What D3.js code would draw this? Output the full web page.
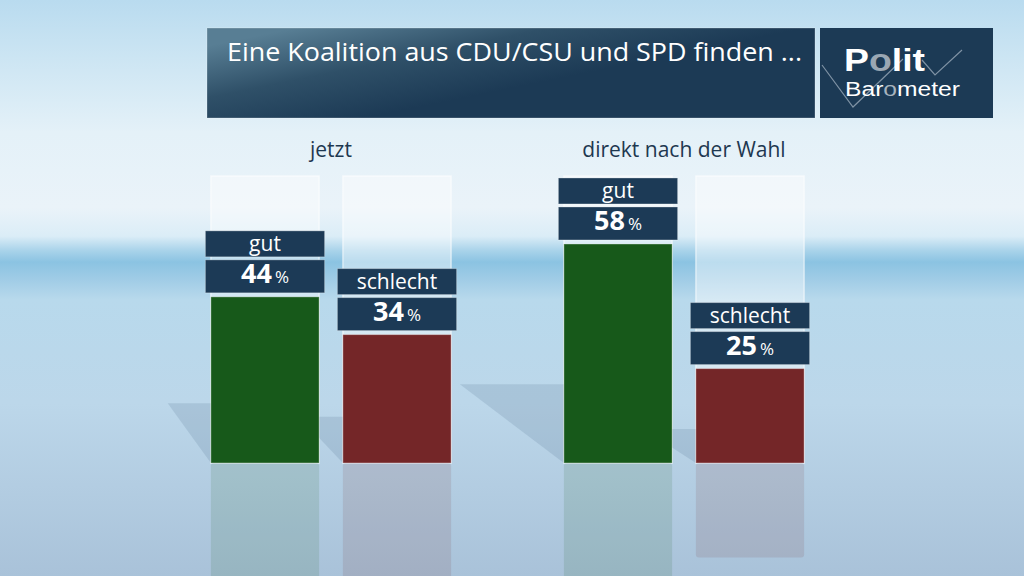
<!DOCTYPE html>
<html><head><meta charset="utf-8">
<script src="https://cdn.jsdelivr.net/npm/d3@7"></script>
<style>html,body{margin:0;padding:0;overflow:hidden;background:#cfe3f0}</style>
</head><body><svg id="c" width="1024" height="576"></svg>
<script>
const title = "Eine Koalition aus CDU/CSU und SPD finden ...";
const groups = ["jetzt", "direkt nach der Wahl"];
const categories = ["gut", "schlecht"];
const valuesJetzt = [44, 34];
const valuesNachWahl = [58, 25];
const seriesValues = [valuesJetzt, valuesNachWahl];
const scaleMax = 76;

const data = [];
groups.forEach((g, gi) => categories.forEach((c, ci) => data.push({group: g, cat: c, value: seriesValues[gi][ci]})));

const W = 1024, H = 576;
const svg = d3.select("#c");
const defs = svg.append("defs");
const FONT = "'Open Sans', 'Noto Sans', sans-serif";

// background gradient
const bg = defs.append("linearGradient").attr("id", "bg").attr("x1", 0).attr("y1", 0).attr("x2", 0).attr("y2", 1);
[[0, "#b9dbef"], [0.1, "#cce5f3"], [0.23, "#e4f1f8"], [0.36, "#eaf3f9"], [0.41, "#dbedf7"], [0.435, "#a9d3ea"],
 [0.455, "#8bc3e2"], [0.485, "#a0cce6"], [0.52, "#b8d9ec"], [0.7, "#bcd7ea"], [1, "#a9c2d9"]]
  .forEach(([o, c]) => bg.append("stop").attr("offset", o).attr("stop-color", c));
svg.append("rect").attr("width", W).attr("height", H).attr("fill", "url(#bg)");

// title box gradient
const tg = defs.append("linearGradient").attr("id", "tg").attr("x1", 0).attr("y1", 0.2).attr("x2", 0.55).attr("y2", 0.6);
[[0, "#587e94"], [0.5, "#2f5068"], [1, "#1c3a55"]].forEach(([o, c]) => tg.append("stop").attr("offset", o).attr("stop-color", c));

svg.append("rect").attr("x", 207).attr("y", 28).attr("width", 608).attr("height", 90).attr("fill", "url(#tg)")
  .attr("stroke", "rgba(255,255,255,0.25)").attr("stroke-width", 1);
svg.append("text").attr("x", 227).attr("y", 61).attr("fill", "#fff").attr("font-family", FONT)
  .attr("font-size", 25).attr("textLength", 575).attr("lengthAdjust", "spacingAndGlyphs").text(title);

// logo
const logo = svg.append("g");
logo.append("rect").attr("x", 820).attr("y", 28).attr("width", 173).attr("height", 90).attr("fill", "#1c3a55");
logo.append("path").attr("d", "M822,65 L853,107 L903,59 M922,60 L935,75 L962,50")
  .attr("fill", "none").attr("stroke", "#7f92a4").attr("stroke-width", 1.2);
const p = logo.append("text").attr("x", 844).attr("y", 71).attr("font-family", "'Liberation Sans', Arial, sans-serif")
  .attr("font-weight", "bold").attr("font-size", 32).attr("fill", "#fff")
  .attr("textLength", 81).attr("lengthAdjust", "spacingAndGlyphs");
p.append("tspan").text("P");
p.append("tspan").attr("fill", "#9aa7b3").text("o");
p.append("tspan").text("lit");
const b = logo.append("text").attr("x", 845).attr("y", 96).attr("font-family", "'Liberation Sans', Arial, sans-serif")
  .attr("font-size", 20).attr("fill", "#fff").attr("textLength", 115).attr("lengthAdjust", "spacingAndGlyphs");
b.append("tspan").text("Bar");
b.append("tspan").attr("fill", "#a7b3be").text("o");
b.append("tspan").text("meter");

// scales
const x0 = d3.scaleBand().domain(groups).range([154.5, 860.5]);
const x1 = d3.scaleBand().domain(categories).range([44.5, 308.5]).paddingInner(0.18).paddingOuter(0.09);
const y = d3.scaleLinear().domain([0, scaleMax]).range([463, 176]);
const color = d3.scaleOrdinal().domain(categories).range(["#17591a", "#742628"]);
const bx = d => x0(d.group) + x1(d.cat);
const bw = x1.bandwidth();

// group labels
svg.append("g").selectAll("text").data(groups).join("text")
  .attr("x", g => x0(g) + x0.bandwidth() / 2).attr("y", 157).attr("text-anchor", "middle")
  .attr("font-family", FONT).attr("font-size", 21).attr("fill", "#1e3850").text(g => g);

// pale columns
svg.append("g").selectAll("rect").data(data).join("rect")
  .attr("x", d => bx(d)).attr("y", y(scaleMax)).attr("width", bw).attr("height", y(0) - y(scaleMax))
  .attr("fill", "rgba(255,255,255,0.42)").attr("stroke", "rgba(255,255,255,0.55)").attr("stroke-width", 1.5);

// shadows
svg.append("g").selectAll("path").data(data).join("path")
  .attr("d", d => {
    const h = y(0) - y(d.value), L = bx(d);
    const dy = 0.36 * h, dx = h * 0.000609 * (L + 216);
    return `M${L},${y(0)} L${L - dx},${y(0) - dy} L${L},${y(0) - dy} Z`;
  })
  .attr("fill", "rgba(70,100,130,0.16)");

// reflections
svg.append("g").selectAll("rect").data(data).join("rect")
  .attr("x", d => bx(d)).attr("y", y(0)).attr("width", bw).attr("height", d => y(0) - y(d.value))
  .attr("rx", 3).attr("fill", d => color(d.cat)).attr("opacity", 0.12);

// bars
svg.append("g").selectAll("rect").data(data).join("rect")
  .attr("x", d => bx(d)).attr("y", d => y(d.value)).attr("width", bw).attr("height", d => y(0) - y(d.value))
  .attr("fill", d => color(d.cat)).attr("stroke", "rgba(255,255,255,0.35)").attr("stroke-width", 1);

// labels
const lab = svg.append("g").selectAll("g").data(data).join("g");
const pad = 5.5;
lab.append("rect").attr("x", d => bx(d) - pad).attr("y", d => y(d.value) - 4 - 33).attr("width", bw + 2 * pad).attr("height", 33)
  .attr("fill", "#1c3a56").attr("stroke", "rgba(255,255,255,0.3)").attr("stroke-width", 1);
lab.append("rect").attr("x", d => bx(d) - pad).attr("y", d => y(d.value) - 4 - 33 - 3 - 26).attr("width", bw + 2 * pad).attr("height", 26)
  .attr("fill", "#1c3a56").attr("stroke", "rgba(255,255,255,0.3)").attr("stroke-width", 1);
lab.append("text").attr("x", d => bx(d) + bw / 2).attr("y", d => y(d.value) - 4 - 33 - 3 - 6)
  .attr("text-anchor", "middle").attr("font-family", FONT).attr("font-size", 21).attr("fill", "#fff").text(d => d.cat);
const vt = lab.append("text").attr("x", d => bx(d) + bw / 2).attr("y", d => y(d.value) - 4 - 10)
  .attr("text-anchor", "middle").attr("font-family", FONT).attr("fill", "#fff");
vt.append("tspan").attr("font-size", 27).attr("font-weight", "bold").text(d => d.value);
vt.append("tspan").attr("font-size", 17).attr("dx", 3).text("%");
</script></body></html>
